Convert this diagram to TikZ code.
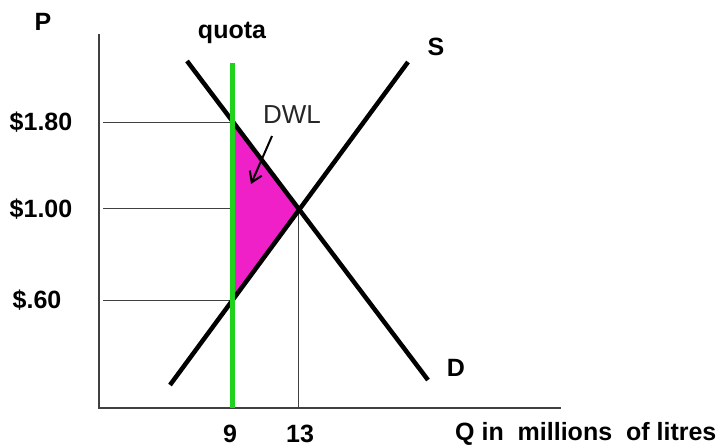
\documentclass[tikz,border=0pt]{standalone}
\usepackage{fontspec}
\setmainfont{Liberation Sans}
\usetikzlibrary{arrows.meta}
\begin{document}
\begin{tikzpicture}[x=1pt,y=-1pt,
  lbl/.style={font=\fontsize{25}{27}\selectfont\bfseries, inner sep=0pt},
  axis/.style={line width=1.3pt, draw=black!75},
  curve/.style={line width=4.5pt, draw=black},
  guide/.style={line width=1pt, draw=black!75}]
\useasboundingbox (0,0) rectangle (727,447);
% points
\coordinate (top) at (99,34);
\coordinate (orig) at (99,408);
\coordinate (xend) at (561,408);
\coordinate (A) at (232,122);
\coordinate (E) at (298,208);
\coordinate (B) at (232,300);
\coordinate (G) at (232,208);
\coordinate (Ey) at (103,208);
\coordinate (Ay) at (103,122);
\coordinate (By) at (103,300);
\coordinate (Ex) at (298,408);
\coordinate (dS) at (187,61);
\coordinate (dE) at (428,380);
\coordinate (sS) at (170,385);
\coordinate (sE) at (408,62);
\coordinate (qT) at (232,63);
\coordinate (qB) at (232,408);
% DWL triangle
\fill[fill={rgb,255:red,240;green,32;blue,200}, draw={rgb,255:red,120;green,120;blue,150}, line width=0.8pt] (A) -- (E) -- (B) -- cycle;
% axes
\draw[axis] (top) -- (orig) -- (xend);
% guides
\draw[guide] (Ay) -- (A);
\draw[guide] (Ey) -- (G);
\draw[guide] (By) -- (B);
\draw[guide] (E) -- (Ex);
% curves
\draw[curve] (dS) -- (dE);
\draw[curve] (sS) -- (sE);
% quota
\draw[line width=5pt, draw={rgb,255:red,30;green,210;blue,30}] (qT) -- (qB);
% labels
\node[lbl] (P) at (43,22) {P};
\node[lbl] (quota) at (232,33) {quota};
\node[lbl] (S) at (436,47) {S};
\node[lbl] (D) at (456,368) {D};
\node[lbl] (p180) at (41,122) {\$1.80};
\node[lbl] (p100) at (41,209) {\$1.00};
\node[lbl] (p60) at (37,300) {\$.60};
\node[lbl] (q9) at (230,434) {9};
\node[lbl] (q13) at (300,434) {13};
\node[lbl, anchor=west] (qlab) at (455,434) {Q in\ \ millions\ \ of litres};
\node[font=\fontsize{26}{28}\selectfont, text=black!85, inner sep=0pt] (dwl) at (292,115) {DWL};
\coordinate (arS) at (272,136);
\coordinate (arE) at (251,184);
\draw[line width=2pt, -{Straight Barb[length=10pt,width=13pt,line width=2pt]}] (arS) -- (arE);
\end{tikzpicture}
\end{document}
